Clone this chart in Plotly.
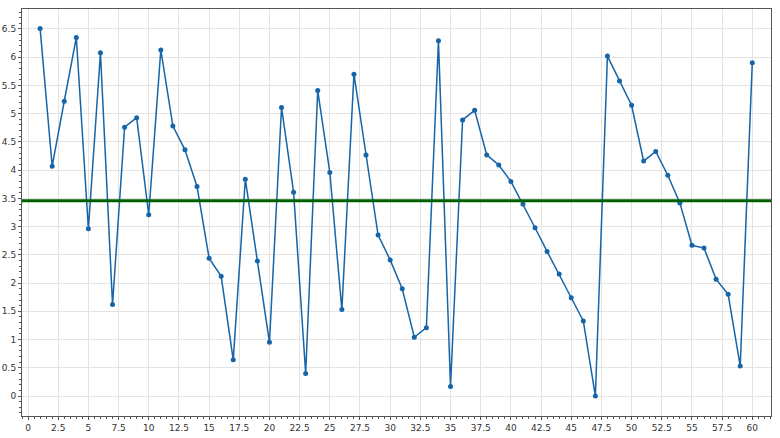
import plotly.graph_objects as go

x_vals = list(range(1, 61))
y_vals = [
    6.51, 4.07, 5.22, 6.35, 2.96, 6.08, 1.62, 4.76, 4.93, 3.21,
    6.13, 4.78, 4.36, 3.71, 2.44, 2.12, 0.64, 3.84, 2.39, 0.95,
    5.11, 3.61, 0.40, 5.41, 3.96, 1.53, 5.70, 4.27, 2.85, 2.41,
    1.90, 1.04, 1.21, 6.29, 0.17, 4.89, 5.06, 4.27, 4.09, 3.80,
    3.40, 2.98, 2.56, 2.16, 1.74, 1.33, 0.00, 6.02, 5.58, 5.15,
    4.16, 4.33, 3.91, 3.42, 2.67, 2.62, 2.07, 1.80, 0.53, 5.90,
]
mean_val = sum(y_vals) / len(y_vals)

fig = go.Figure()
fig.add_trace(go.Scatter(
    x=x_vals, y=y_vals, mode="lines+markers",
    line=dict(color="#1565a8", width=1.5),
    marker=dict(color="#1565a8", size=5),
    showlegend=False,
))
fig.add_hline(y=mean_val, line=dict(color="#006000", width=3))

axis_common = dict(
    showline=True, linecolor="#555555", linewidth=1, mirror=True,
    showgrid=True, gridcolor="#e3e3e3", gridwidth=1,
    zeroline=False, automargin=False,
    ticks="outside", ticklen=3, tickcolor="#555555",
    tickfont=dict(family="DejaVu Sans", size=9, color="#333333"),
)

fig.update_xaxes(
    range=[-0.5, 61.55], tick0=0, dtick=2.5,
    minor=dict(ticks="outside", dtick=0.5, ticklen=2, tickcolor="#555555", showgrid=False),
    **axis_common,
)
fig.update_yaxes(
    range=[-0.354, 6.854], tick0=0, dtick=0.5,
    minor=dict(ticks="outside", dtick=0.1, ticklen=2, tickcolor="#555555", showgrid=False),
    **axis_common,
)

fig.update_layout(
    width=780, height=438,
    margin=dict(l=22, r=9, t=9, b=22),
    plot_bgcolor="white", paper_bgcolor="white",
)

fig.write_html(
    "out.html",
    config={"displayModeBar": False},
    post_script="document.body.style.margin='0';",
)
